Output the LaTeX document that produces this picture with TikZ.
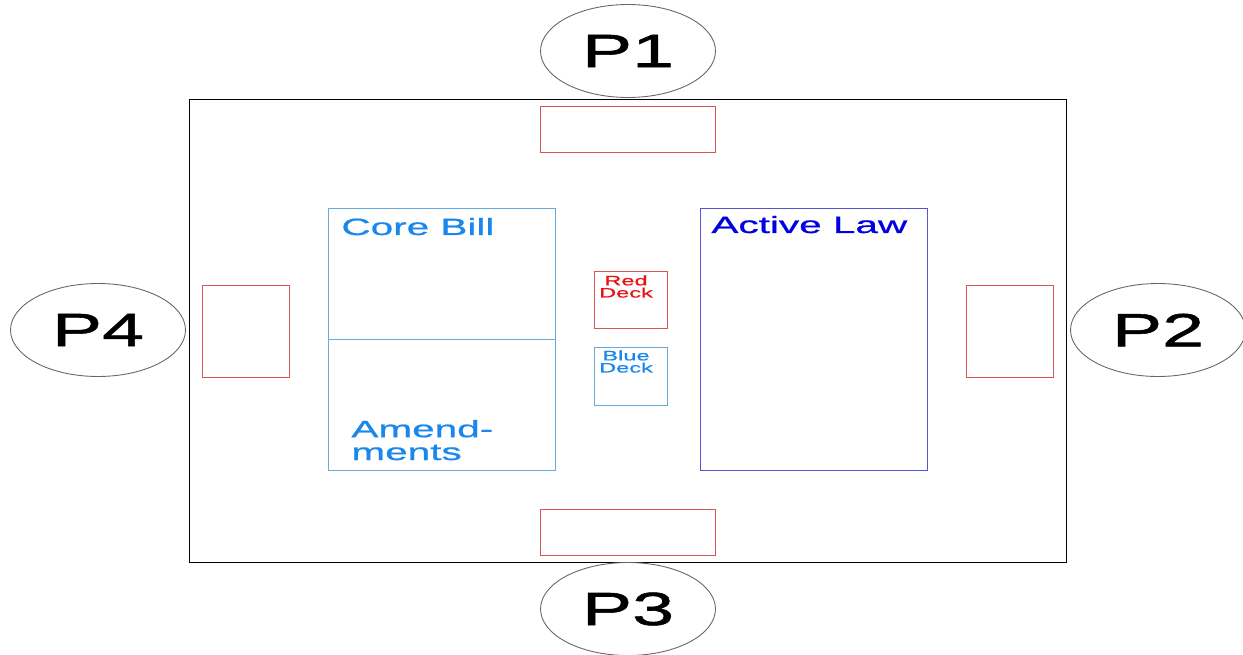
\documentclass[tikz,border=0pt]{standalone}
\usepackage{fontspec}
\setmainfont{Liberation Sans}
\newfontfamily\widefont[FakeStretch=1.72,FakeBold=0.9]{Liberation Sans}
\newfontfamily\pfont[FakeStretch=1.62,FakeBold=1.2]{Liberation Sans}
\usetikzlibrary{shapes.geometric}
\definecolor{seatred}{RGB}{215,85,85}
\definecolor{billblue}{RGB}{25,135,235}
\definecolor{billline}{RGB}{105,170,220}
\definecolor{lawblue}{RGB}{0,0,225}
\definecolor{lawline}{RGB}{85,85,210}
\definecolor{deckred}{RGB}{230,20,20}

\begin{document}
\begin{tikzpicture}[x=0.02cm,y=-0.02cm,line width=0.5pt,
  player/.style={ellipse,draw=black!60,minimum width=3.5cm,minimum height=1.86cm,inner sep=0pt,font={\pfont\fontsize{26.5}{26}\selectfont}},
  seat/.style={draw=seatred},
  bigtext/.style={anchor=base west,inner sep=0pt,align=left,font={\widefont\fontsize{13.4}{13}\selectfont}},
  decktext/.style={anchor=north,inner sep=0pt,align=center,font={\widefont\fontsize{7.8}{6.9}\selectfont}}]
\useasboundingbox (0,0) rectangle (1243,655);

\draw (189,99) rectangle (1066,562);

\draw[seat] (540,106) rectangle (715,152);
\draw[seat] (966,285) rectangle (1053,377);
\draw[seat] (540,509) rectangle (715,555);
\draw[seat] (202,285) rectangle (289,377);

\draw[billline] (328,208) rectangle (555,470);
\draw[billline] (328,339) -- (555,339);
\draw[lawline] (700,208) rectangle (927,470);
\draw[seatred] (594,271) rectangle (667,328);
\draw[billline] (594,347) rectangle (667,405);

\node[player] (p1) at (628,51) {P1};
\node[player] (p2) at (1158,330) {P2};
\node[player] (p3) at (628,609) {P3};
\node[player] (p4) at (98,330) {P4};

\node[bigtext,text=billblue] (corebill) at (341,235) {Core Bill};
\node[bigtext,text=billblue] (amend) at (351,460) {Amend-\\ments};
\node[bigtext,text=lawblue] (activelaw) at (711,233) {Active Law};
\node[decktext,text=deckred] (reddeck) at (626,275) {Red\\Deck};
\node[decktext,text=billblue] (bluedeck) at (626,350) {Blue\\Deck};
\end{tikzpicture}
\end{document}
